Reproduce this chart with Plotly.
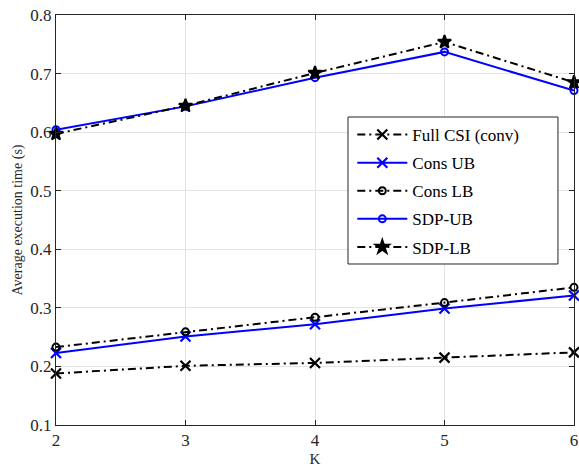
import plotly.graph_objects as go

K = [2, 3, 4, 5, 6]
full_csi = [0.188, 0.201, 0.206, 0.215, 0.224]
cons_ub = [0.223, 0.251, 0.272, 0.299, 0.321]
cons_lb = [0.233, 0.259, 0.284, 0.309, 0.335]
sdp_ub = [0.604, 0.644, 0.693, 0.737, 0.671]
sdp_lb = [0.597, 0.645, 0.701, 0.754, 0.685]

DASHDOT = "8px,4px,2px,4px"
series = [
    ("Full CSI (conv)", full_csi, "black", DASHDOT, "x-thin-open", 10),
    ("Cons UB", cons_ub, "blue", "solid", "x-thin-open", 10),
    ("Cons LB", cons_lb, "black", DASHDOT, "circle-open", 7),
    ("SDP-UB", sdp_ub, "blue", "solid", "circle-open", 7),
    ("SDP-LB", sdp_lb, "black", DASHDOT, "star", 10),
]

fig = go.Figure()
for i, (name, vals, color, dash, sym, size) in enumerate(series):
    fig.add_trace(go.Scatter(
        x=K, y=vals, name=name, mode="lines+markers", legendgroup=str(i),
        cliponaxis=False,
        line=dict(color=color, width=2, dash=dash),
        marker=dict(symbol=sym, size=size, color=color,
                    line=dict(color=color, width=2.2 if "x" in sym else 2)),
    ))

axis_common = dict(
    showline=True, linecolor="#262626", linewidth=1, mirror="allticks",
    ticks="inside", ticklen=5, tickcolor="#262626",
    showgrid=True, gridcolor="#e3e3e3", gridwidth=1, zeroline=False,
    automargin=False,
    tickfont=dict(family="Liberation Serif", size=17, color="#262626"),
)

# legend frame (MATLAB-style box, wider than the auto legend)
fig.add_shape(type="rect", xref="paper", yref="paper",
              x0=0.5637, x1=0.969, y0=0.3927, y1=0.7512,
              line=dict(color="#262626", width=1), fillcolor="white", layer="above")

fig.update_layout(
    width=579, height=468,
    margin=dict(l=56, r=5, t=15, b=43),
    paper_bgcolor="white", plot_bgcolor="white",
    font=dict(family="Liberation Serif", color="#262626"),
    xaxis=dict(range=[2, 6], tickvals=[2, 3, 4, 5, 6],
               title=dict(text="K", font=dict(size=15, family="Liberation Serif"), standoff=4),
               **axis_common),
    yaxis=dict(range=[0.1, 0.8], tickvals=[0.1, 0.2, 0.3, 0.4, 0.5, 0.6, 0.7, 0.8],
               tickformat=".1f",
               title=dict(text="Average execution time (s)", font=dict(size=14, family="Liberation Serif"), standoff=4),
               **axis_common),
    legend=dict(x=0.572, y=0.7512, xanchor="left", yanchor="top",
                bgcolor="rgba(0,0,0,0)", borderwidth=0,
                font=dict(family="Liberation Serif", size=17, color="#000000"),
                tracegroupgap=3, itemwidth=50),
    showlegend=True,
)

fig.write_html("out.html", config={"displayModeBar": False},
               post_script="document.body.style.margin='0px';")
